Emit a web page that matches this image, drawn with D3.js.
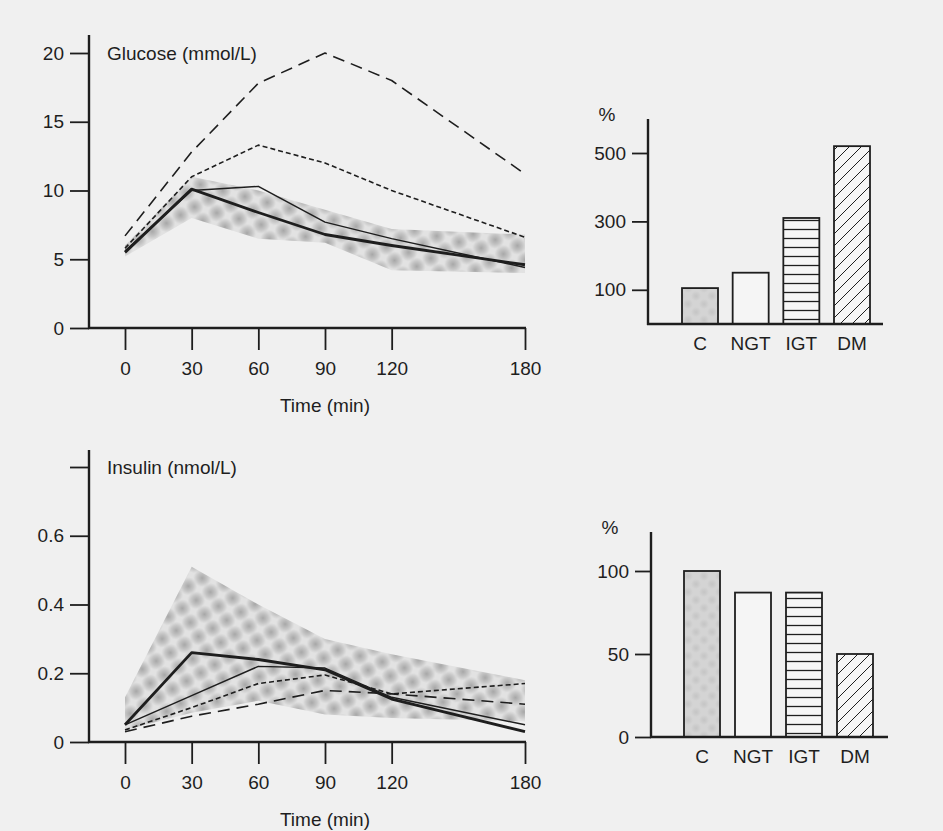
<!DOCTYPE html>
<html>
<head>
<meta charset="utf-8">
<script src="https://cdn.jsdelivr.net/npm/d3@7"></script>
<style>
body { margin: 0; background: #f0f0f0; }
svg { display: block; font-family: "Liberation Sans", Arial, sans-serif; }
</style>
</head>
<body>
<svg id="chart" width="943" height="831"></svg>
<script>
// ---- data ----
var times = [0, 30, 60, 90, 120, 180];

var glucoseC   = [5.5, 10.1, 8.4, 6.8, 6.0, 4.6];
var glucoseNGT = [5.6, 10.0, 10.3, 7.7, 6.5, 4.4];
var glucoseIGT = [5.8, 11.0, 13.3, 12.0, 10.0, 6.6];
var glucoseDM  = [6.7, 12.8, 17.8, 20.0, 18.0, 11.2];
var glucoseBandLow  = [5.2, 8.0, 6.5, 6.2, 4.2, 4.0];
var glucoseBandHigh = [6.0, 11.0, 10.0, 8.6, 7.2, 6.8];
var glucoseTicks = [0, 5, 10, 15, 20];
var glucoseTickLabels = ["0", "5", "10", "15", "20"];

var insulinC   = [0.05, 0.26, 0.24, 0.21, 0.125, 0.03];
var insulinNGT = [0.05, 0.135, 0.22, 0.215, 0.13, 0.05];
var insulinIGT = [0.035, 0.10, 0.17, 0.195, 0.14, 0.17];
var insulinDM  = [0.03, 0.075, 0.11, 0.15, 0.14, 0.11];
var insulinBandLow  = [0.035, 0.085, 0.12, 0.08, 0.07, 0.06];
var insulinBandHigh = [0.13, 0.51, 0.40, 0.30, 0.255, 0.18];
var insulinTicks = [0, 0.2, 0.4, 0.6, 0.8];
var insulinTickLabels = ["0", "0.2", "0.4", "0.6", ""];

var groups = ["C", "NGT", "IGT", "DM"];
var glucoseBars = [105, 150, 310, 520];
var insulinBars = [100, 87, 87, 50];
var glucoseBarTicks = [100, 300, 500];
var insulinBarTicks = [0, 50, 100];

var ink = "#1e1e1e", bg = "#f0f0f0", paper = "#f5f5f5";

var svg = d3.select("#chart");
svg.append("rect").attr("width", 943).attr("height", 831).attr("fill", bg);

// ---- fill patterns ----
var defs = svg.append("defs");
var blob = defs.append("radialGradient").attr("id", "blob");
blob.append("stop").attr("offset", "0%").attr("stop-color", "#808080").attr("stop-opacity", 0.6);
blob.append("stop").attr("offset", "55%").attr("stop-color", "#808080").attr("stop-opacity", 0.3);
blob.append("stop").attr("offset", "100%").attr("stop-color", "#808080").attr("stop-opacity", 0);

var stip = defs.append("pattern").attr("id", "stipple")
  .attr("patternUnits", "userSpaceOnUse").attr("width", 23).attr("height", 23)
  .attr("patternTransform", "rotate(15)");
stip.append("rect").attr("width", 23).attr("height", 23).attr("fill", "#e2e2e2");
[[0, 0], [23, 0], [0, 23], [23, 23], [11.5, 11.5]].forEach(function (p) {
  stip.append("circle").attr("cx", p[0]).attr("cy", p[1]).attr("r", 9).attr("fill", "url(#blob)");
});

var fine = defs.append("pattern").attr("id", "fine")
  .attr("patternUnits", "userSpaceOnUse").attr("width", 16).attr("height", 16);
fine.append("rect").attr("width", 16).attr("height", 16).attr("fill", "#d4d4d4");
[[0, 0], [16, 0], [0, 16], [16, 16], [8, 8]].forEach(function (p) {
  fine.append("circle").attr("cx", p[0]).attr("cy", p[1]).attr("r", 5).attr("fill", "url(#blob)").attr("opacity", 0.3);
});

var hl = defs.append("pattern").attr("id", "hlines")
  .attr("patternUnits", "userSpaceOnUse").attr("width", 8).attr("height", 9);
hl.append("rect").attr("width", 8).attr("height", 9).attr("fill", paper);
hl.append("line").attr("x1", 0).attr("x2", 8).attr("y1", 4.5).attr("y2", 4.5)
  .attr("stroke", ink).attr("stroke-width", 1.3);

var dg = defs.append("pattern").attr("id", "diag")
  .attr("patternUnits", "userSpaceOnUse").attr("width", 12).attr("height", 12);
dg.append("rect").attr("width", 12).attr("height", 12).attr("fill", paper);
dg.append("path").attr("d", "M-3,3 l6,-6 M0,12 l12,-12 M9,15 l6,-6")
  .attr("stroke", ink).attr("stroke-width", 1);

function styleAxis(sel) {
  sel.select(".domain").remove();
  sel.selectAll(".tick line").attr("stroke", ink).attr("stroke-width", 1.8);
  sel.selectAll(".tick text").attr("fill", ink).attr("font-size", 19);
}

// ---- line panels ----
function linePanel(o) {
  var x = d3.scaleLinear().domain([0, 180]).range([125, 525]);
  var y = d3.scaleLinear().domain([0, o.yMax]).range([o.y0, o.yTop]);
  var g = svg.append("g");

  var area = d3.area()
    .x(function (d, i) { return x(times[i]); })
    .y0(function (d) { return y(d[0]); })
    .y1(function (d) { return y(d[1]); });
  g.append("path").datum(d3.zip(o.bandLow, o.bandHigh))
    .attr("d", area).attr("fill", "url(#stipple)");

  var line = d3.line()
    .x(function (d, i) { return x(times[i]); })
    .y(function (d) { return y(d); });
  o.series.forEach(function (s) {
    g.append("path").datum(s.values).attr("d", line)
      .attr("fill", "none").attr("stroke", ink)
      .attr("stroke-width", s.width)
      .attr("stroke-dasharray", s.dash || null)
      .attr("stroke-linejoin", "round");
  });

  var ya = g.append("g").attr("transform", "translate(89,0)")
    .call(d3.axisLeft(y).tickValues(o.ticks)
      .tickFormat(function (d, i) { return o.tickLabels[i]; })
      .tickSize(19).tickPadding(6));
  styleAxis(ya);
  g.append("line").attr("x1", 89).attr("x2", 89).attr("y1", o.axisTop).attr("y2", y(0) + 1)
    .attr("stroke", ink).attr("stroke-width", 2.4);

  var xa = g.append("g").attr("transform", "translate(0," + y(0) + ")")
    .call(d3.axisBottom(x).tickValues(times).tickSize(22).tickPadding(12));
  styleAxis(xa);
  g.append("line").attr("x1", 88).attr("x2", x(180) + 1).attr("y1", y(0)).attr("y2", y(0))
    .attr("stroke", ink).attr("stroke-width", 2.4);

  g.append("text").attr("x", 107).attr("y", o.yTop + 7).attr("font-size", 19)
    .attr("fill", ink).text(o.title);
  g.append("text").attr("x", x(90)).attr("y", y(0) + 84).attr("font-size", 19)
    .attr("fill", ink).attr("text-anchor", "middle").text("Time (min)");
}

linePanel({
  yMax: 20, y0: 328, yTop: 53, axisTop: 35,
  ticks: glucoseTicks, tickLabels: glucoseTickLabels, title: "Glucose (mmol/L)",
  bandLow: glucoseBandLow, bandHigh: glucoseBandHigh,
  series: [
    { values: glucoseDM, width: 1.6, dash: "12,7" },
    { values: glucoseIGT, width: 1.6, dash: "5,3" },
    { values: glucoseNGT, width: 1.5 },
    { values: glucoseC, width: 2.8 }
  ]
});

linePanel({
  yMax: 0.8, y0: 742, yTop: 467, axisTop: 450,
  ticks: insulinTicks, tickLabels: insulinTickLabels, title: "Insulin (nmol/L)",
  bandLow: insulinBandLow, bandHigh: insulinBandHigh,
  series: [
    { values: insulinDM, width: 1.6, dash: "12,7" },
    { values: insulinIGT, width: 1.6, dash: "5,3" },
    { values: insulinNGT, width: 1.5 },
    { values: insulinC, width: 2.8 }
  ]
});

// ---- bar panels ----
var barFills = ["url(#fine)", paper, "url(#hlines)", "url(#diag)"];

function barPanel(o) {
  var x = d3.scalePoint().domain(groups).range(o.xRange);
  var y = d3.scaleLinear().domain([0, o.yMax]).range([o.y0, o.yTop]);
  var g = svg.append("g");
  var bw = 36;

  g.selectAll("rect.bar").data(o.values).enter().append("rect")
    .attr("class", "bar")
    .attr("x", function (d, i) { return x(groups[i]) - bw / 2; })
    .attr("y", function (d) { return y(d); })
    .attr("width", bw)
    .attr("height", function (d) { return y(0) - y(d); })
    .attr("fill", function (d, i) { return barFills[i]; })
    .attr("stroke", ink).attr("stroke-width", 1.8);

  var ya = g.append("g").attr("transform", "translate(" + o.axisX + ",0)")
    .call(d3.axisLeft(y).tickValues(o.ticks).tickFormat(d3.format("d")).tickSize(16).tickPadding(6));
  styleAxis(ya);
  g.append("line").attr("x1", o.axisX).attr("x2", o.axisX).attr("y1", o.axisTop).attr("y2", y(0) + 1)
    .attr("stroke", ink).attr("stroke-width", 2.4);
  g.append("line").attr("x1", o.axisX - 1).attr("x2", o.xEnd).attr("y1", y(0)).attr("y2", y(0))
    .attr("stroke", ink).attr("stroke-width", 2.4);

  g.append("text").attr("x", o.axisX - 41).attr("y", o.axisTop + 2).attr("font-size", 19)
    .attr("fill", ink).attr("text-anchor", "middle").text("%");

  g.selectAll("text.cat").data(groups).enter().append("text")
    .attr("class", "cat")
    .attr("x", function (d) { return x(d); })
    .attr("y", y(0) + 26)
    .attr("font-size", 19).attr("fill", ink).attr("text-anchor", "middle")
    .text(function (d) { return d; });
}

barPanel({
  values: glucoseBars, yMax: 500, y0: 324, yTop: 153, axisX: 648, axisTop: 119, xEnd: 883,
  xRange: [700, 852], ticks: glucoseBarTicks
});

barPanel({
  values: insulinBars, yMax: 100, y0: 737, yTop: 571, axisX: 651, axisTop: 532, xEnd: 888,
  xRange: [702, 855], ticks: insulinBarTicks
});
</script>
</body>
</html>
